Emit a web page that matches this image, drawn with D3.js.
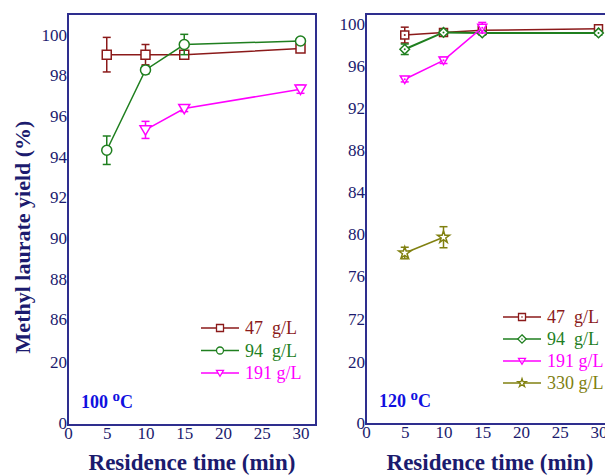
<!DOCTYPE html>
<html>
<head>
<meta charset="utf-8">
<script src="https://cdn.jsdelivr.net/npm/d3@7"></script>
<style>
  body { margin: 0; background: #fff; }
  svg { display: block; }
  text { font-family: 'Liberation Serif', 'DejaVu Serif', serif; }
</style>
</head>
<body>
<svg width="605" height="475"></svg>
<script>
var svg = d3.select('svg');
var serif = "'Liberation Serif', 'DejaVu Serif', serif";

// ---- data ----
var times = [5, 10, 15, 30];

// 100 C panel
var y47L = [99.0, 99.0, 99.0, 99.3];
var e47L = [0.85, 0.5, 0.1, 0.15];
var y94L = [94.3, 98.25, 99.5, 99.67];
var e94L = [0.7, 0.2, 0.5, 0.12];
var t191L = [10, 15, 30];
var y191L = [95.3, 96.35, 97.3];
var e191L = [0.42, 0.15, 0.2];

// 120 C panel
var y47R = [98.9, 99.15, 99.35, 99.5];
var e47R = [0.75, 0.15, 0.15, 0.2];
var y94R = [97.55, 99.15, 99.1, 99.1];
var e94R = [0.5, 0.2, 0.2, 0.2];
var t191R = [5, 10, 15];
var y191R = [94.7, 96.5, 99.6];
var e191R = [0.25, 0.3, 0.5];
var t330R = [5, 10];
var y330R = [78.2, 79.7];
var e330R = [0.55, 1.0];

var xTicks = [0, 5, 10, 15, 20, 25, 30];
var yTicksL = [100, 98, 96, 94, 92, 90, 88, 86, 20, 0];
var yTicksR = [100, 96, 92, 88, 84, 80, 76, 72, 20, 0];

var legendL = ['47  g/L', '94  g/L', '191 g/L'];
var legendR = ['47  g/L', '94  g/L', '191 g/L', '330 g/L'];

var cRed = '#8b1a1a', cGreen = '#1f7f1f', cMag = '#ff00ff', cOlive = '#808010';
var navy = '#1b1b6e';
var frameCol = '#2e2e8e';

function zip(ts, ys, es) {
  return ts.map(function(t, i) { return {x: t, y: ys[i], e: es[i]}; });
}

// marker path generators
function markerPath(kind, s) {
  var h = s / 2;
  if (kind === 'square') return 'M' + (-h) + ',' + (-h) + 'h' + s + 'v' + s + 'h' + (-s) + 'Z';
  if (kind === 'circle') return d3.symbol(d3.symbolCircle, Math.PI * h * h)();
  if (kind === 'diamond') return 'M0,' + (-h * 1.2) + 'L' + (h * 1.2) + ',0L0,' + (h * 1.2) + 'L' + (-h * 1.2) + ',0Z';
  if (kind === 'tri') return 'M' + (-h) + ',' + (-h * 0.75) + 'L' + h + ',' + (-h * 0.75) + 'L0,' + (h * 0.95) + 'Z';
  if (kind === 'star') return d3.symbol(d3.symbolStar, s * s * 0.45)();
}

function panel(opt) {
  var g = svg.append('g');
  var x = d3.scaleLinear().domain([0, 32]).range([opt.x0, opt.x0 + 248]);
  var y = d3.scaleLinear().domain(opt.yDom).range(opt.yRange);

  // tick labels only, no tick marks
  g.append('g')
    .attr('transform', 'translate(' + opt.x0 + ',0)')
    .call(d3.axisLeft(y).tickValues(opt.yTicks).tickSize(0).tickPadding(1).tickFormat(d3.format('d')))
    .call(function(a) {
      a.select('.domain').remove();
      a.attr('font-family', null);
      a.selectAll('text').style('font-family', serif)
        .attr('font-size', 17).attr('fill', navy).attr('dy', '0.34em');
    });

  g.append('g')
    .attr('transform', 'translate(0,' + opt.yBottom + ')')
    .call(d3.axisBottom(x).tickValues(xTicks).tickSize(0).tickPadding(2))
    .call(function(a) {
      a.select('.domain').remove();
      a.attr('font-family', null);
      a.selectAll('text').style('font-family', serif)
        .attr('font-size', 17).attr('fill', navy);
    });

  // frame
  g.append('rect')
    .attr('x', opt.x0).attr('y', 14)
    .attr('width', 248).attr('height', opt.yBottom - 14)
    .attr('fill', 'none').attr('stroke', frameCol).attr('stroke-width', 2);

  var line = d3.line().x(function(d) { return x(d.x); }).y(function(d) { return y(d.y); });

  opt.series.forEach(function(s) {
    var pts = s.data;
    g.append('path').datum(pts)
      .attr('d', line).attr('fill', 'none')
      .attr('stroke', s.color).attr('stroke-width', s.lw || 1.5);

    var eb = g.append('g').attr('stroke', s.color).attr('stroke-width', 1.5);
    pts.forEach(function(d) {
      var cx = x(d.x), yt = y(d.y + d.e), yb = y(d.y - d.e);
      eb.append('line').attr('x1', cx).attr('x2', cx).attr('y1', yt).attr('y2', yb);
      eb.append('line').attr('x1', cx - 4).attr('x2', cx + 4).attr('y1', yt).attr('y2', yt);
      eb.append('line').attr('x1', cx - 4).attr('x2', cx + 4).attr('y1', yb).attr('y2', yb);
    });

    g.selectAll(null).data(pts).enter().append('path')
      .attr('transform', function(d) { return 'translate(' + x(d.x) + ',' + y(d.y) + ')'; })
      .attr('d', markerPath(s.marker, s.size))
      .attr('fill', 'white').attr('stroke', s.color).attr('stroke-width', 1.5);

    if (s.dot) {
      g.selectAll(null).data(pts).enter().append('circle')
        .attr('cx', function(d) { return x(d.x); })
        .attr('cy', function(d) { return y(d.y); })
        .attr('r', 1).attr('fill', s.color);
    }
  });

  // legend
  opt.series.forEach(function(s, i) {
    var ly = opt.legY + i * opt.legGap;
    var lg = g.append('g');
    lg.append('line').attr('x1', opt.legX).attr('x2', opt.legX + 38)
      .attr('y1', ly).attr('y2', ly).attr('stroke', s.color).attr('stroke-width', 1.5);
    lg.append('path').attr('transform', 'translate(' + (opt.legX + 19) + ',' + ly + ')')
      .attr('d', markerPath(s.marker, 7)).attr('fill', 'white')
      .attr('stroke', s.color).attr('stroke-width', 1.3);
    if (s.dot) lg.append('circle').attr('cx', opt.legX + 19).attr('cy', ly).attr('r', 0.8).attr('fill', s.color);
    lg.append('text').attr('x', opt.legX + 44).attr('y', ly + 6)
      .style('font-family', serif)
      .attr('font-size', 18).attr('fill', s.color)
      .style('white-space', 'pre')
      .text(s.label);
  });

  // temperature label
  var tt = g.append('text').attr('x', opt.x0 + 13).attr('y', opt.yBottom - 17)
    .style('font-family', serif)
    .attr('font-weight', 'bold').attr('font-size', 18).attr('fill', '#1010e0');
  tt.append('tspan').text(opt.temp + ' ');
  tt.append('tspan').attr('dy', -7).attr('font-size', 15).text('o');
  tt.append('tspan').attr('dy', 7).text('C');

  // x title
  g.append('text').attr('x', opt.x0 + 124).attr('y', 470)
    .attr('text-anchor', 'middle')
    .style('font-family', serif)
    .attr('font-weight', 'bold').attr('font-size', 23).attr('fill', navy)
    .text('Residence time (min)');
}

panel({
  x0: 68, yBottom: 425,
  yDom: [0, 20, 86, 101], yRange: [423, 362, 319, 14],
  yTicks: yTicksL, temp: '100',
  legX: 201, legY: 328, legGap: 22.5,
  series: [
    {data: zip(times, y47L, e47L), color: cRed, marker: 'square', size: 9, label: legendL[0]},
    {data: zip(times, y94L, e94L), color: cGreen, marker: 'circle', size: 10, label: legendL[1]},
    {data: zip(t191L, y191L, e191L), color: cMag, marker: 'tri', size: 11, label: legendL[2]}
  ]
});

panel({
  x0: 366, yBottom: 424,
  yDom: [0, 20, 72, 100.9], yRange: [423, 362, 318.3, 14],
  yTicks: yTicksR, temp: '120',
  legX: 503, legY: 317, legGap: 22,
  series: [
    {data: zip(times, y47R, e47R), color: cRed, marker: 'square', size: 8, dot: true, label: legendR[0]},
    {data: zip(times, y94R, e94R), color: cGreen, marker: 'diamond', size: 8, dot: true, lw: 2, label: legendR[1]},
    {data: zip(t191R, y191R, e191R), color: cMag, marker: 'tri', size: 9, dot: true, label: legendR[2]},
    {data: zip(t330R, y330R, e330R), color: cOlive, marker: 'star', size: 10, label: legendR[3]}
  ]
});

// y title
svg.append('text')
  .attr('transform', 'translate(30,237) rotate(-90)')
  .attr('text-anchor', 'middle')
  .style('font-family', serif)
  .attr('font-weight', 'bold').attr('font-size', 22).attr('fill', navy)
  .text('Methyl laurate yield (%)');
</script>
</body>
</html>
